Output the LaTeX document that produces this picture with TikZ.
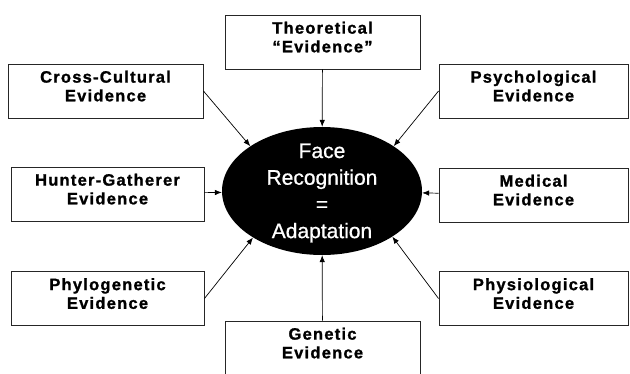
\documentclass[tikz,border=0pt]{standalone}
\usepackage{fontspec}
\setmainfont{Liberation Sans}
\newfontfamily\evfont[LetterSpace=7.5,BoldFeatures={FakeBold=1.2}]{Liberation Sans}
\newfontfamily\facefont[FakeBold=0.8]{Liberation Sans}
\usetikzlibrary{arrows.meta,shapes.geometric}
\newcommand{\lowpad}{\rule[-10pt]{0pt}{10pt}}
\tikzset{
  evbox/.style={draw=black!85, line width=0.9pt, fill=white, rectangle,
    minimum height=54pt, inner sep=0pt, align=center,
    font=\evfont\bfseries\fontsize{16.5}{18.7}\selectfont},
  faceell/.style={ellipse, fill=black, minimum width=200pt, minimum height=128pt, inner sep=0pt},
  facetext/.style={text=white, align=center, inner sep=0pt,
    font=\facefont\fontsize{21}{26.7}\selectfont}
}
\begin{document}
\begin{tikzpicture}[x=1pt,y=-1pt,>={Latex[length=7pt,width=5.5pt]}]
\useasboundingbox (0,0) rectangle (630,373);
\fill[white] (0,0) rectangle (630,373);

\node[faceell] (face) at (322,191) {};
\node[facetext] (facelbl) at (322,193) {Face\\Recognition\\=\\Adaptation};

\node[evbox, minimum width=195pt] (theo) at (322.5,42) {Theoretical\\“Evidence”\lowpad};
\node[evbox, minimum width=195pt] (cross) at (105.5,91) {Cross-Cultural\\Evidence\lowpad};
\node[evbox, minimum width=193pt] (hunter) at (107.5,194) {Hunter-Gatherer\\Evidence\lowpad};
\node[evbox, minimum width=193pt] (phylo) at (107.5,298.5) {Phylogenetic\\Evidence\lowpad};
\node[evbox, minimum width=189pt] (psych) at (533.5,91) {Psychological\\Evidence\lowpad};
\node[evbox, minimum width=189pt] (medical) at (533.5,195) {Medical\\Evidence\lowpad};
\node[evbox, minimum width=189pt] (physio) at (533.5,298.5) {Physiological\\Evidence\lowpad};
\node[evbox, minimum width=195pt] (genetic) at (322.5,348) {Genetic\\Evidence\lowpad};

\draw[->, line width=0.7pt] (theo) -- (face);
\draw[->, line width=0.7pt] (genetic) -- (face);
\draw[->, line width=0.7pt] (cross.east) -- (face.148);
\draw[->, line width=0.7pt] (psych.west) -- (face.32);
\draw[->, line width=0.7pt] (hunter) -- (face);
\draw[->, line width=0.7pt] (medical) -- (face);
\draw[->, line width=0.7pt] (phylo.east) -- (face.214);
\draw[->, line width=0.7pt] (physio.west) -- (face.327);
\end{tikzpicture}
\end{document}
